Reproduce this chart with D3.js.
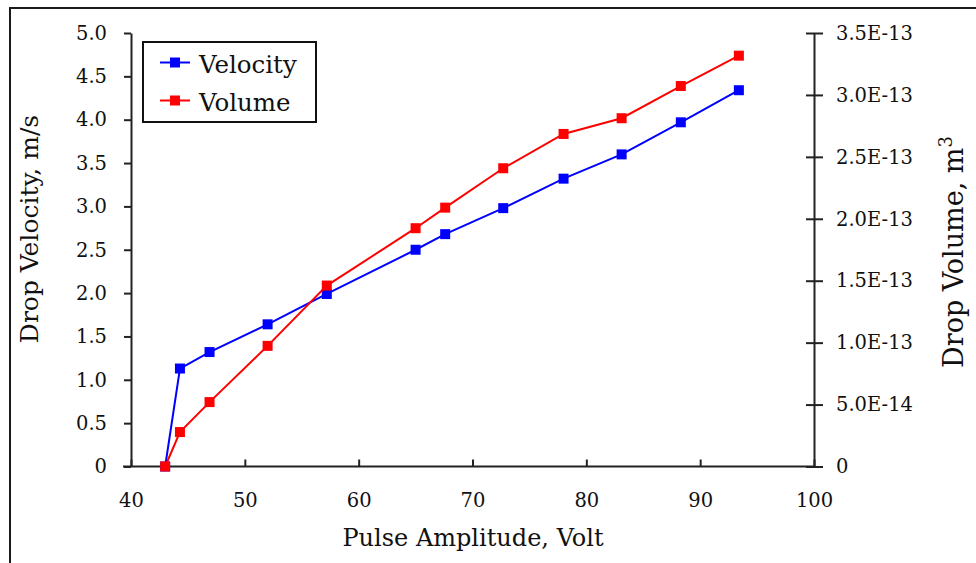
<!DOCTYPE html>
<html>
<head>
<meta charset="utf-8">
<script src="https://cdn.jsdelivr.net/npm/d3@7"></script>
<style>
  html, body { margin: 0; padding: 0; background: #fff; }
  svg { display: block; }
  svg text { font-family: "DejaVu Serif", serif; fill: #111; }
</style>
</head>
<body>
<svg id="chart" width="976" height="563"></svg>
<script>
// ---- data ----
const amplitude = [43, 44.3, 46.9, 52, 57.2, 65, 67.6, 72.7, 78, 83.1, 88.3, 93.4];
const velocity  = [0, 1.13, 1.32, 1.64, 1.99, 2.50, 2.68, 2.98, 3.32, 3.60, 3.97, 4.34];
const volume    = [0, 2.78e-14, 5.2e-14, 9.74e-14, 1.461e-13, 1.924e-13, 2.09e-13, 2.408e-13, 2.685e-13, 2.812e-13, 3.072e-13, 3.317e-13];
const xTicks = [40, 50, 60, 70, 80, 90, 100];
const yLeftTicks = [0, 0.5, 1.0, 1.5, 2.0, 2.5, 3.0, 3.5, 4.0, 4.5, 5.0];
const yLeftLabels = ["0", "0.5", "1.0", "1.5", "2.0", "2.5", "3.0", "3.5", "4.0", "4.5", "5.0"];
const yRightTicks = [0, 5e-14, 1e-13, 1.5e-13, 2e-13, 2.5e-13, 3e-13, 3.5e-13];
const yRightLabels = ["0", "5.0E-14", "1.0E-13", "1.5E-13", "2.0E-13", "2.5E-13", "3.0E-13", "3.5E-13"];
const seriesNames = ["Velocity", "Volume"];
const seriesColors = ["#0000ff", "#ff0000"];

// ---- layout ----
const svg = d3.select("#chart");
const L = 131, R = 814, T = 33, B = 466.5;
const x = d3.scaleLinear().domain([40, 100]).range([L, R]);
const yL = d3.scaleLinear().domain([0, 5]).range([B, T]);
const yR = d3.scaleLinear().domain([0, 3.5e-13]).range([B, T]);

// outer frame
svg.append("rect").attr("x", 10).attr("y", 8).attr("width", 1000).attr("height", 600)
  .attr("fill", "none").attr("stroke", "#1a1a1a").attr("stroke-width", 2);

const axisColor = "#222";
const tickFont = 19.5;

// left axis
const gL = svg.append("g").attr("transform", `translate(${L},0)`)
  .call(d3.axisLeft(yL).tickValues(yLeftTicks).tickSize(7).tickSizeOuter(0)
    .tickFormat((d, i) => yLeftLabels[i]).tickPadding(17));
// right axis
const gR = svg.append("g").attr("transform", `translate(${R},0)`)
  .call(d3.axisRight(yR).tickValues(yRightTicks).tickSize(9).tickSizeOuter(0)
    .tickFormat((d, i) => yRightLabels[i]).tickPadding(13));
gR.selectAll(".tick line").attr("x1", -8);
// bottom axis
const gB = svg.append("g").attr("transform", `translate(0,${B})`)
  .call(d3.axisBottom(x).tickValues(xTicks).tickSize(-7).tickSizeOuter(0).tickPadding(28)
    .tickFormat(d3.format("d")));

[gL, gR, gB].forEach(g => {
  g.attr("font-family", null).attr("font-size", null);
  g.select(".domain").attr("stroke", axisColor).attr("stroke-width", 2);
  g.selectAll(".tick line").attr("stroke", axisColor).attr("stroke-width", 2);
  g.selectAll(".tick text").style("font-size", tickFont + "px").attr("fill", "#111");
});
gB.select(".domain").attr("d", `M${L - 8},0H${R}`);
gB.selectAll(".tick text").attr("y", 40).attr("dy", 0);

// series
const line = (yScale, vals) => d3.line().x((d, i) => x(amplitude[i])).y((d, i) => yScale(vals[i]));
const seriesData = [[velocity, yL], [volume, yR]];
seriesData.forEach(([vals, ys], k) => {
  svg.append("path").datum(vals).attr("d", line(ys, vals))
    .attr("fill", "none").attr("stroke", seriesColors[k]).attr("stroke-width", 2);
  svg.append("g").selectAll("rect").data(vals).join("rect")
    .attr("x", (d, i) => x(amplitude[i]) - 5).attr("y", d => ys(d) - 5)
    .attr("width", 10).attr("height", 10).attr("fill", seriesColors[k]);
});

// legend
svg.append("rect").attr("x", 143).attr("y", 42).attr("width", 173).attr("height", 80)
  .attr("fill", "#fff").attr("stroke", "#111").attr("stroke-width", 2);
seriesNames.forEach((name, k) => {
  const cy = 62.5 + k * 38;
  svg.append("line").attr("x1", 160).attr("x2", 190).attr("y1", cy).attr("y2", cy)
    .attr("stroke", seriesColors[k]).attr("stroke-width", 2);
  svg.append("rect").attr("x", 170).attr("y", cy - 5).attr("width", 10).attr("height", 10)
    .attr("fill", seriesColors[k]);
  svg.append("text").attr("x", 199).attr("y", cy + 10).attr("font-size", 24.5)
    .text(name);
});

// axis titles
svg.append("text").attr("x", 473).attr("y", 546).attr("text-anchor", "middle")
  .attr("font-size", 24).text("Pulse Amplitude, Volt");
svg.append("text").attr("transform", "translate(38,229) rotate(-90)").attr("text-anchor", "middle")
  .attr("font-size", 25).text("Drop Velocity, m/s");
const rt = svg.append("text").attr("transform", "translate(963,252) rotate(-90)").attr("text-anchor", "middle")
  .attr("font-size", 27);
rt.append("tspan").text("Drop Volume, m");
rt.append("tspan").attr("dy", -11).attr("font-size", 18).text("3");
</script>
</body>
</html>
